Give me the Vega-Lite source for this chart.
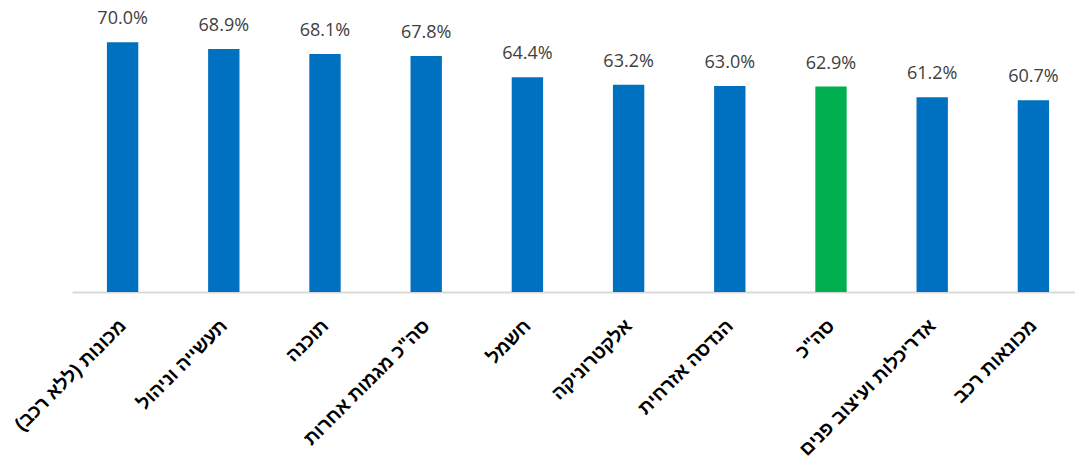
{
  "$schema": "https://vega.github.io/schema/vega-lite/v6.json",
  "autosize": {"type": "none"},
  "width": 1012,
  "height": 281,
  "padding": {"left": 72, "top": 11, "right": 0, "bottom": 167},
  "background": "white",
  "config": {"view": {"stroke": null}},
  "data": {
    "values": [
      {"field": "מכונות (ללא רכב)", "value": 0.700, "group": "מגמה"},
      {"field": "תעשייה וניהול", "value": 0.689, "group": "מגמה"},
      {"field": "תוכנה", "value": 0.681, "group": "מגמה"},
      {"field": "סה\"כ מגמות אחרות", "value": 0.678, "group": "מגמה"},
      {"field": "חשמל", "value": 0.644, "group": "מגמה"},
      {"field": "אלקטרוניקה", "value": 0.632, "group": "מגמה"},
      {"field": "הנדסה אזרחית", "value": 0.630, "group": "מגמה"},
      {"field": "סה\"כ", "value": 0.629, "group": "סה\"כ"},
      {"field": "אדריכלות ועיצוב פנים", "value": 0.612, "group": "מגמה"},
      {"field": "מכונאות רכב", "value": 0.607, "group": "מגמה"}
    ]
  },
  "encoding": {
    "x": {
      "field": "field",
      "type": "nominal",
      "sort": null,
      "scale": {"paddingInner": 0.69, "paddingOuter": 0.345},
      "axis": {
        "title": null,
        "labelAngle": -45,
        "labelFont": "Liberation Sans",
        "labelFontWeight": "bold",
        "labelFontSize": 19,
        "labelColor": "black",
        "labelPadding": 24,
        "labelOffset": -6,
        "labelLimit": 300,
        "ticks": false,
        "domainColor": "#d9d9d9",
        "domainWidth": 2
      }
    },
    "y": {
      "field": "value",
      "type": "quantitative",
      "scale": {"domain": [0.3, 0.75], "zero": false, "clamp": true},
      "axis": null
    }
  },
  "layer": [
    {
      "mark": {"type": "bar", "clip": true},
      "encoding": {
        "color": {
          "field": "group",
          "type": "nominal",
          "scale": {"domain": ["מגמה", "סה\"כ"], "range": ["#0070C0", "#00B050"]},
          "legend": null
        }
      }
    },
    {
      "mark": {"type": "text", "baseline": "alphabetic", "dy": -18, "font": "Open Sans", "fontSize": 18, "color": "#404040"},
      "encoding": {
        "text": {"field": "value", "type": "quantitative", "format": ".1%"}
      }
    }
  ]
}
